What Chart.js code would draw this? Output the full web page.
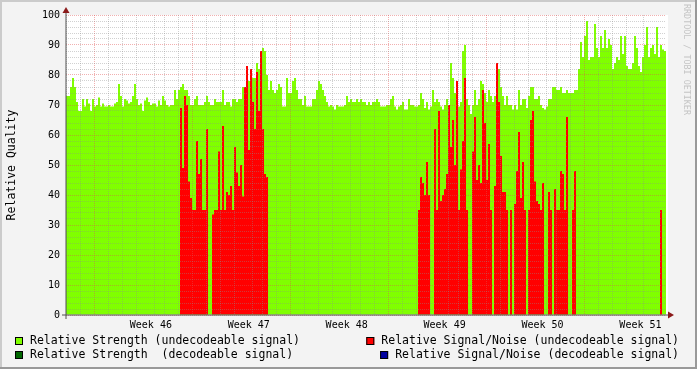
<!DOCTYPE html>
<html><head><meta charset="utf-8">
<script src="https://cdn.jsdelivr.net/npm/chart.js@4/dist/chart.umd.min.js"></script>
<style>html,body{margin:0;padding:0;background:#f3f3f3;overflow:hidden}canvas{display:block}</style>
</head><body>
<canvas id="c" width="697" height="369"></canvas>
<script>
// ---- data (one value per sample, left to right) ----
const strengthUndecodeable = [
73,73,76,79,76,71,68,68,72,69.5, 72,70.5,68,72,69.5,70,72.5,69.5,70.5,69.5,
69.5,70,69.5,69.5,70.5,71,77,73,69.5,72, 71.5,70.5,71,73,77,72,70,70.5,68,71.5,
72.5,71,70,70.5,70.5,69.5,71.5,70,73,71.5,
70,69.5,70,70,75,72,75,76,77,75, 75,73,70,70,72,73,70,70,70,71,
73,71,70,70,72,71,71,71,75,70, 71,71,69.5,72,72,71,72,72,76,76,
80,78,74,79,79,84,82,84,89,88,
80,75,78,75,74,75,77,76,69.5,69.5, 79,74,74,78,79,75,72,72,70,73,
69.5,69.5,69.5,72,72,75,78,77,75,73, 71,69.5,70,69.5,68.5,70,69.5,69.5,69.5,70,
73,71,72,71,71,72,71,72,71,71,
70,71,70,71,71,72,71,69.5,69.5,69.5, 70,70,72,73,69.5,68.5,69.5,70,71,68.5,
68.5,72,70,70,69.5,69.5,70,74,72,69, 71,68.5,69.5,75,71,72,71,69.5,68.5,70,
72,70,84,79,74,70,69.5,71,88,90,
72,70,67,70,75,70,72,78,77,74, 71,75,73,71,73,84,82,76,73,70,
73,70,70,68.5,70,68.5,75,70,72,72, 69,73,76,76,72,72,73,70,69,68.5,
69.5,72,72,76,76,75,75,76,74,74,
75,74,74,74,75,75,82,91,86,93, 98,85,86,86,97,89,86,93,89,95,
89,92,90,82,84,86,85,93,87,93, 83,82,82,84,93,89,83,81,86,90,
96,86,89,90,87,96,86,90,88.5,88
];
const snrUndecodeable = [
0,0,0,0,0,0,0,0,0,0, 0,0,0,0,0,0,0,0,0,0, 0,0,0,0,0,0,0,0,0,0,
0,0,0,0,0,0,0,0,0,0, 0,0,0,0,0,0,0,0,0,0,
0,0,0,0,0,0,0,69,49,73, 70,44.5,39,35,35,58,47,52,35,35,
62,0,0,33.5,35,35,54.5,35,63,35, 41,40,43,35,56,47.5,43,50,39.5,76,
83,55,82,71,62,81,68,88,62,47,
46,0,0,0,0,0,0,0,0,0, 0,0,0,0,0,0,0,0,0,0, 0,0,0,0,0,0,0,0,0,0,
0,0,0,0,0,0,0,0,0,0, 0,0,0,0,0,0,0,0,0,0,
0,0,0,0,0,0,0,0,0,0, 0,0,0,0,0,0,0,0,0,0, 0,0,0,0,0,0,35,46,44,40,
51,40,0,0,62,35,68,38,40,42, 47,70,56,65,50,78,35,48.5,58,79,
35,0,0,54.5,66,45,50,44,75,64, 45,57,35,0,43,84,71,53,41,41,
35,0,35,0,37,48,61,39,51,35, 0,35,65,68,44.5,38,37,35,44,0,
0,41,35,0,42,35,35,48,47,35,
66,0,0,35,48,0,0,0,0,0, 0,0,0,0,0,0,0,0,0,0, 0,0,0,0,0,0,0,0,0,0,
0,0,0,0,0,0,0,0,0,0, 0,0,0,0,0,0,0,35,0,0
];
const strengthDecodeable = [];   // no visible samples
const snrDecodeable = [];        // no visible samples
const weekLabels = ['Week 46','Week 47','Week 48','Week 49','Week 50','Week 51'];
const yTickValues = [0,2,4,6,8,10,12,14,16,18,20,22,24,26,28,30,32,34,36,38,40,42,44,46,48,50,
  52,54,56,58,60,62,64,66,68,70,72,74,76,78,80,82,84,86,88,90,92,94,96,98,100];
const legendLabels = [
  'Relative Strength (undecodeable signal)',
  'Relative Signal/Noise (undecodeable signal)',
  'Relative Strength  (decodeable signal)',
  'Relative Signal/Noise (decodeable signal)'
];
const yTitle = 'Relative Quality';
const watermark = 'RRDTOOL / TOBI OETIKER';

// ---- styles ----
const GREEN = '#80ff00', RED = '#ff0000', DGREEN = '#006600', BLUE = '#0000a0';
const MINOR = 'rgba(140,140,140,0.4)', MAJOR = 'rgba(225,80,80,0.45)';
const MONO = "'DejaVu Sans Mono', monospace";
const legendColors = [GREEN, RED, DGREEN, BLUE];

const sampleLabels = strengthUndecodeable.map((_, i) => String(i));

const rrdPlugin = {
  id: 'rrd',
  beforeDraw(chart) {
    const c = chart.ctx, a = chart.chartArea, W = chart.width, H = chart.height;
    c.save();
    c.fillStyle = '#f3f3f3'; c.fillRect(0, 0, W, H);
    c.fillStyle = '#cbcbcb'; c.fillRect(0, 0, W, 2); c.fillRect(0, 0, 2, H);
    c.fillStyle = '#999999'; c.fillRect(0, H - 2, W, 2); c.fillRect(W - 2, 0, 2, H);
    c.fillStyle = '#ffffff'; c.fillRect(a.left, a.top, a.right - a.left + 2, a.bottom - a.top);
    c.restore();
  },
  afterDraw(chart) {
    const c = chart.ctx, a = chart.chartArea;
    c.save();
    // axes
    c.strokeStyle = '#505050'; c.lineWidth = 1;
    c.beginPath(); c.moveTo(a.left, a.top - 3); c.lineTo(a.left, a.bottom + 4); c.stroke();
    c.beginPath(); c.moveTo(a.left - 4, a.bottom); c.lineTo(a.right + 4, a.bottom); c.stroke();
    c.fillStyle = '#8b1a1a';
    c.beginPath(); c.moveTo(a.left - 3.5, a.top - 2); c.lineTo(a.left + 3.5, a.top - 2); c.lineTo(a.left, a.top - 8); c.closePath(); c.fill();
    c.beginPath(); c.moveTo(a.right + 2, a.bottom - 3.5); c.lineTo(a.right + 2, a.bottom + 3.5); c.lineTo(a.right + 8, a.bottom); c.closePath(); c.fill();
    // legend
    c.font = '11.5px ' + MONO; c.textBaseline = 'middle'; c.fillStyle = '#000';
    const rows = [341.5, 355.5];
    const items = [
      {t: legendLabels[0], col: legendColors[0], row: 0, left: true},
      {t: legendLabels[1], col: legendColors[1], row: 0, left: false},
      {t: legendLabels[2], col: legendColors[2], row: 1, left: true},
      {t: legendLabels[3], col: legendColors[3], row: 1, left: false}
    ];
    items.forEach(it => {
      const y = rows[it.row];
      const tx = it.left ? 30 : 679 - c.measureText(it.t).width;
      c.fillStyle = it.col; c.fillRect(tx - 15, y - 4.5, 8, 8);
      c.strokeStyle = '#000'; c.lineWidth = 1; c.strokeRect(tx - 14.5, y - 4, 7, 7);
      c.fillStyle = '#000'; c.textAlign = 'left'; c.fillText(it.t, tx, y);
    });
    // watermark
    c.font = '8.4px ' + MONO; c.fillStyle = '#c4c4c4'; c.textAlign = 'left'; c.textBaseline = 'middle';
    c.translate(686.5, 4); c.rotate(Math.PI / 2); c.fillText(watermark, 0, 0);
    c.restore();
  }
};

const tickVal = ctx => (ctx && ctx.tick) ? ctx.tick.value : null;

new Chart(document.getElementById('c'), {
  type: 'bar',
  data: {
    labels: sampleLabels,
    datasets: [
      {label: legendLabels[3], data: snrDecodeable, backgroundColor: BLUE, order: 0},
      {label: legendLabels[1], data: snrUndecodeable, backgroundColor: RED, order: 1},
      {label: legendLabels[2], data: strengthDecodeable, backgroundColor: DGREEN, order: 2},
      {label: legendLabels[0], data: strengthUndecodeable, backgroundColor: GREEN, order: 3}
    ]
  },
  options: {
    responsive: false, animation: false, devicePixelRatio: 1,
    layout: {padding: {left: 0, right: 31, top: 15, bottom: 0}},
    datasets: {bar: {grouped: false, barPercentage: 1, categoryPercentage: 1, borderWidth: 0, inflateAmount: 0}},
    plugins: {legend: {display: false}, tooltip: {enabled: false}},
    scales: {
      x: {type: 'category', display: false, offset: true},
      x2: {
        type: 'linear', position: 'bottom', min: -2.12, max: 39.88,
        afterFit: s => { s.height = 54; },
        afterBuildTicks: s => {
          const t = [];
          for (let d = -2; d <= 39; d++) t.push({value: d});
          weekLabels.forEach((_, k) => t.push({value: 3.5 + 7 * k}));
          t.sort((p, q) => p.value - q.value);
          s.ticks = t;
        },
        grid: {z: 1, drawTicks: false, lineWidth: 1,
          color: ctx => { const v = tickVal(ctx); if (v === null || !Number.isInteger(v)) return 'rgba(0,0,0,0)'; return v % 7 === 0 ? MAJOR : MINOR; }},
        border: {display: false, dash: [1, 1]},
        ticks: {autoSkip: false, maxRotation: 0, minRotation: 0, padding: 4, color: '#000',
          font: {family: MONO, size: 10},
          callback: v => Number.isInteger(v) ? '' : weekLabels[Math.round((v - 3.5) / 7)]}
      },
      y: {
        min: 0, max: 100,
        afterFit: s => { s.width = 66; },
        afterBuildTicks: s => { s.ticks = yTickValues.map(v => ({value: v})); },
        grid: {z: 1, drawTicks: false, lineWidth: 1,
          color: ctx => { const v = tickVal(ctx); if (v === null) return 'rgba(0,0,0,0)'; return v % 10 === 0 ? MAJOR : MINOR; }},
        border: {display: false, dash: [1, 1]},
        ticks: {autoSkip: false, padding: 6, color: '#000', font: {family: MONO, size: 10},
          callback: v => v % 10 === 0 ? String(v) : ''},
        title: {display: true, text: yTitle, color: '#000', font: {family: MONO, size: 11.5},
          padding: {top: 5, bottom: 0}}
      }
    }
  },
  plugins: [rrdPlugin]
});
</script>
</body></html>
